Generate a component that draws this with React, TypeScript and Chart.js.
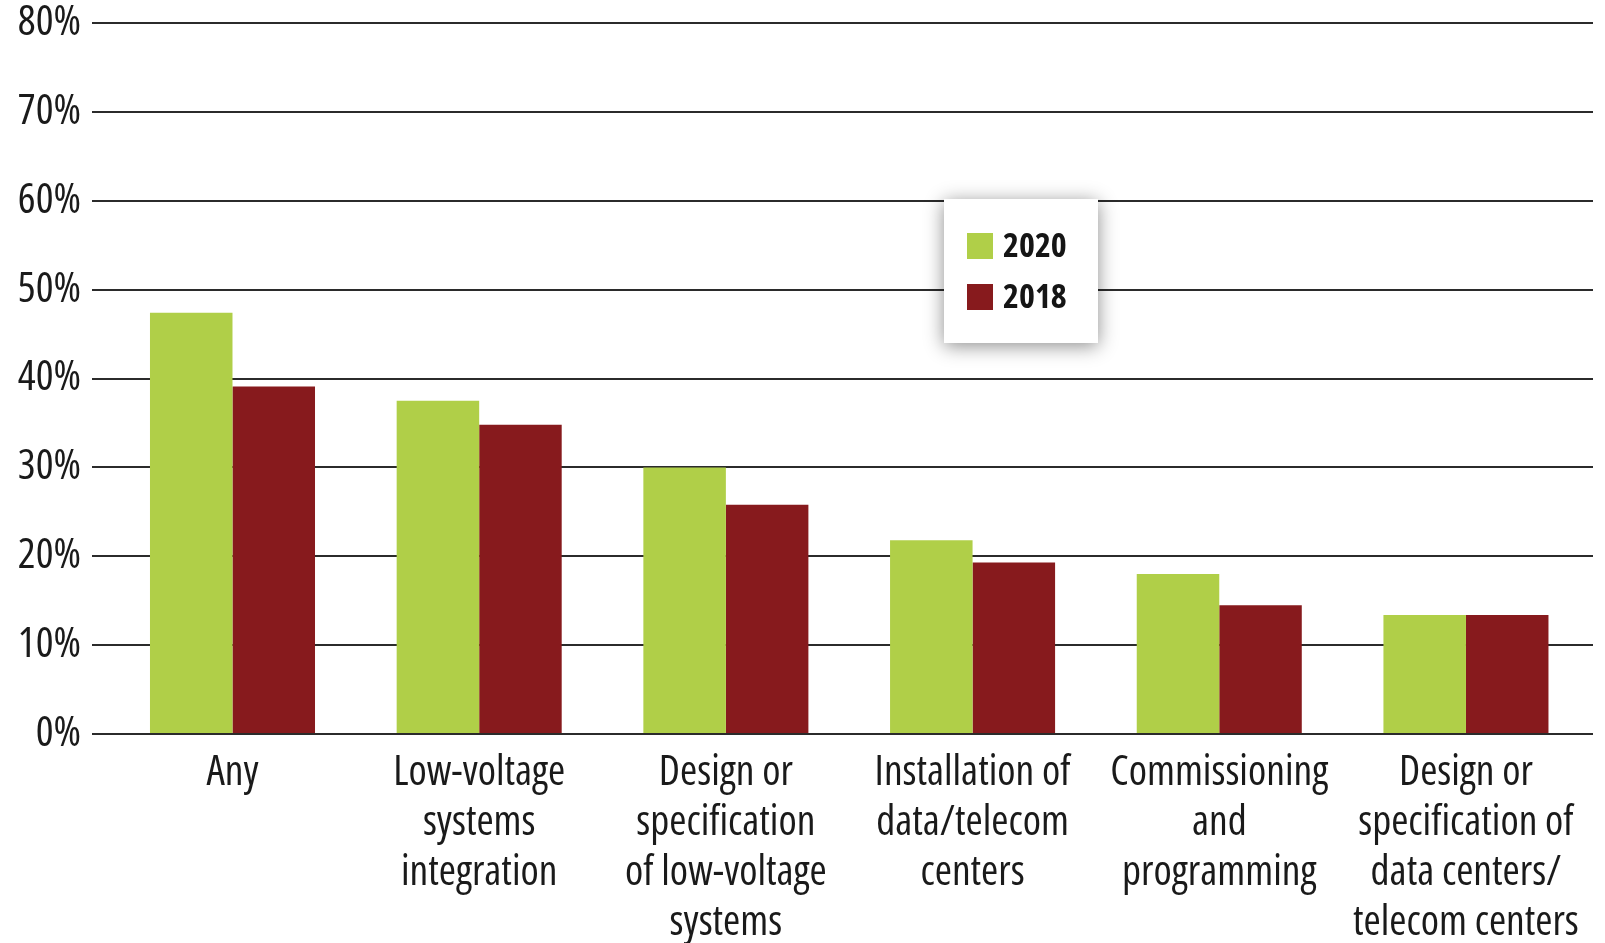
import React, { useEffect, useRef } from 'react';
import { Chart, registerables } from 'chart.js';

Chart.register(...registerables);

const categories: string[][] = [
  ['Any'],
  ['Low-voltage', 'systems', 'integration'],
  ['Design or', 'specification', 'of low-voltage', 'systems'],
  ['Installation of', 'data/telecom', 'centers'],
  ['Commissioning', 'and', 'programming'],
  ['Design or', 'specification of', 'data centers/', 'telecom centers'],
];
const seriesLabels = ['2020', '2018'];
const values2020 = [47.4, 37.5, 30.0, 21.8, 18.0, 13.4];
const values2018 = [39.1, 34.8, 25.8, 19.3, 14.5, 13.4];
const yTickValues = [0, 10, 20, 30, 40, 50, 60, 70, 80];
const yTickLabels = ['0%', '10%', '20%', '30%', '40%', '50%', '60%', '70%', '80%'];

const GREEN = '#b0cf48';
const RED = '#871a1d';
const FONT = "'Open Sans', 'Roboto', sans-serif";

const boxLegend = {
  id: 'boxLegend',
  afterDraw(chart: any, _args: any, opts: any) {
    const ctx = chart.ctx as CanvasRenderingContext2D;
    ctx.save();
    ctx.shadowColor = 'rgba(0,0,0,0.45)';
    ctx.shadowBlur = 18;
    ctx.shadowOffsetX = 0;
    ctx.shadowOffsetY = 3;
    ctx.fillStyle = '#ffffff';
    ctx.fillRect(opts.x, opts.y, opts.w, opts.h);
    ctx.restore();
    ctx.save();
    chart.data.datasets.forEach((ds: any, i: number) => {
      const cy = opts.y + opts.firstRow + i * opts.rowGap;
      ctx.fillStyle = ds.backgroundColor;
      ctx.fillRect(opts.x + opts.boxLeft, cy - opts.box / 2, opts.box, opts.box);
      ctx.fillStyle = '#151515';
      ctx.font = `bold condensed ${opts.fontSize}px ${FONT}`;
      ctx.textBaseline = 'middle';
      ctx.textAlign = 'left';
      ctx.fillText(ds.label, opts.x + opts.textLeft, cy + 1);
    });
    ctx.restore();
  },
};

export default function App() {
  const canvasRef = useRef<HTMLCanvasElement | null>(null);

  useEffect(() => {
    document.body.style.margin = '0';
    const canvas = canvasRef.current;
    if (!canvas) return;
    const chart = new Chart(canvas, {
      type: 'bar',
      data: {
        datasets: [
          {
            label: seriesLabels[0],
            data: values2020.map((v, i) => ({ x: i, y: v })),
            backgroundColor: GREEN,
            borderWidth: 0,
          },
          {
            label: seriesLabels[1],
            data: values2018.map((v, i) => ({ x: i, y: v })),
            backgroundColor: RED,
            borderWidth: 0,
          },
        ],
      },
      plugins: [boxLegend],
      options: {
        responsive: false,
        animation: false,
        events: [],
        layout: { padding: { left: 0, right: 12, top: 23, bottom: 0 } },
        datasets: {
          bar: { categoryPercentage: 0.669, barPercentage: 1.0 },
        },
        plugins: {
          legend: { display: false },
          tooltip: { enabled: false },
          boxLegend: {
            x: 944, y: 199, w: 154, h: 144,
            box: 26, boxLeft: 23, textLeft: 59,
            firstRow: 47, rowGap: 51, fontSize: 34,
          },
        } as any,
        scales: {
          x: {
            type: 'linear',
            bounds: 'data',
            offset: false,
            min: -0.5695,
            max: 5.515,
            border: { display: false },
            grid: { display: false, drawTicks: false, offset: false },
            afterBuildTicks: (scale: any) => {
              scale.ticks = categories.map((_c, i) => ({ value: i }));
            },
            afterFit: (scale: any) => {
              scale.height = 209;
              scale.paddingLeft = 0;
              scale.paddingRight = 0;
            },
            ticks: {
              autoSkip: false,
              maxRotation: 0,
              minRotation: 0,
              padding: 14,
              color: '#1a1a1a',
              font: { family: FONT, weight: 'condensed', size: 41.5, lineHeight: '50px' },
              callback: (value: any) =>
                Number.isInteger(value) && categories[value] ? categories[value] : '',
            },
          },
          y: {
            type: 'linear',
            min: yTickValues[0],
            max: yTickValues[yTickValues.length - 1],
            border: { display: false },
            grid: { color: '#2b2b2b', lineWidth: 2, drawTicks: false },
            afterFit: (scale: any) => {
              scale.width = 92;
              scale.paddingTop = 0;
              scale.paddingBottom = 0;
            },
            afterBuildTicks: (scale: any) => {
              scale.ticks = yTickValues.map((v) => ({ value: v }));
            },
            ticks: {
              padding: 11,
              color: '#1a1a1a',
              font: { family: FONT, weight: 'condensed', size: 42, lineHeight: 1 },
              callback: (value: any) => {
                const idx = yTickValues.indexOf(Number(value));
                return idx >= 0 ? yTickLabels[idx] : '';
              },
            },
          },
        },
      } as any,
    });
    return () => chart.destroy();
  }, []);

  return (
    <div style={{ position: 'absolute', left: 0, top: 0, width: 1605, height: 943, background: '#ffffff' }}>
      <canvas ref={canvasRef} width={1605} height={943} />
    </div>
  );
}
